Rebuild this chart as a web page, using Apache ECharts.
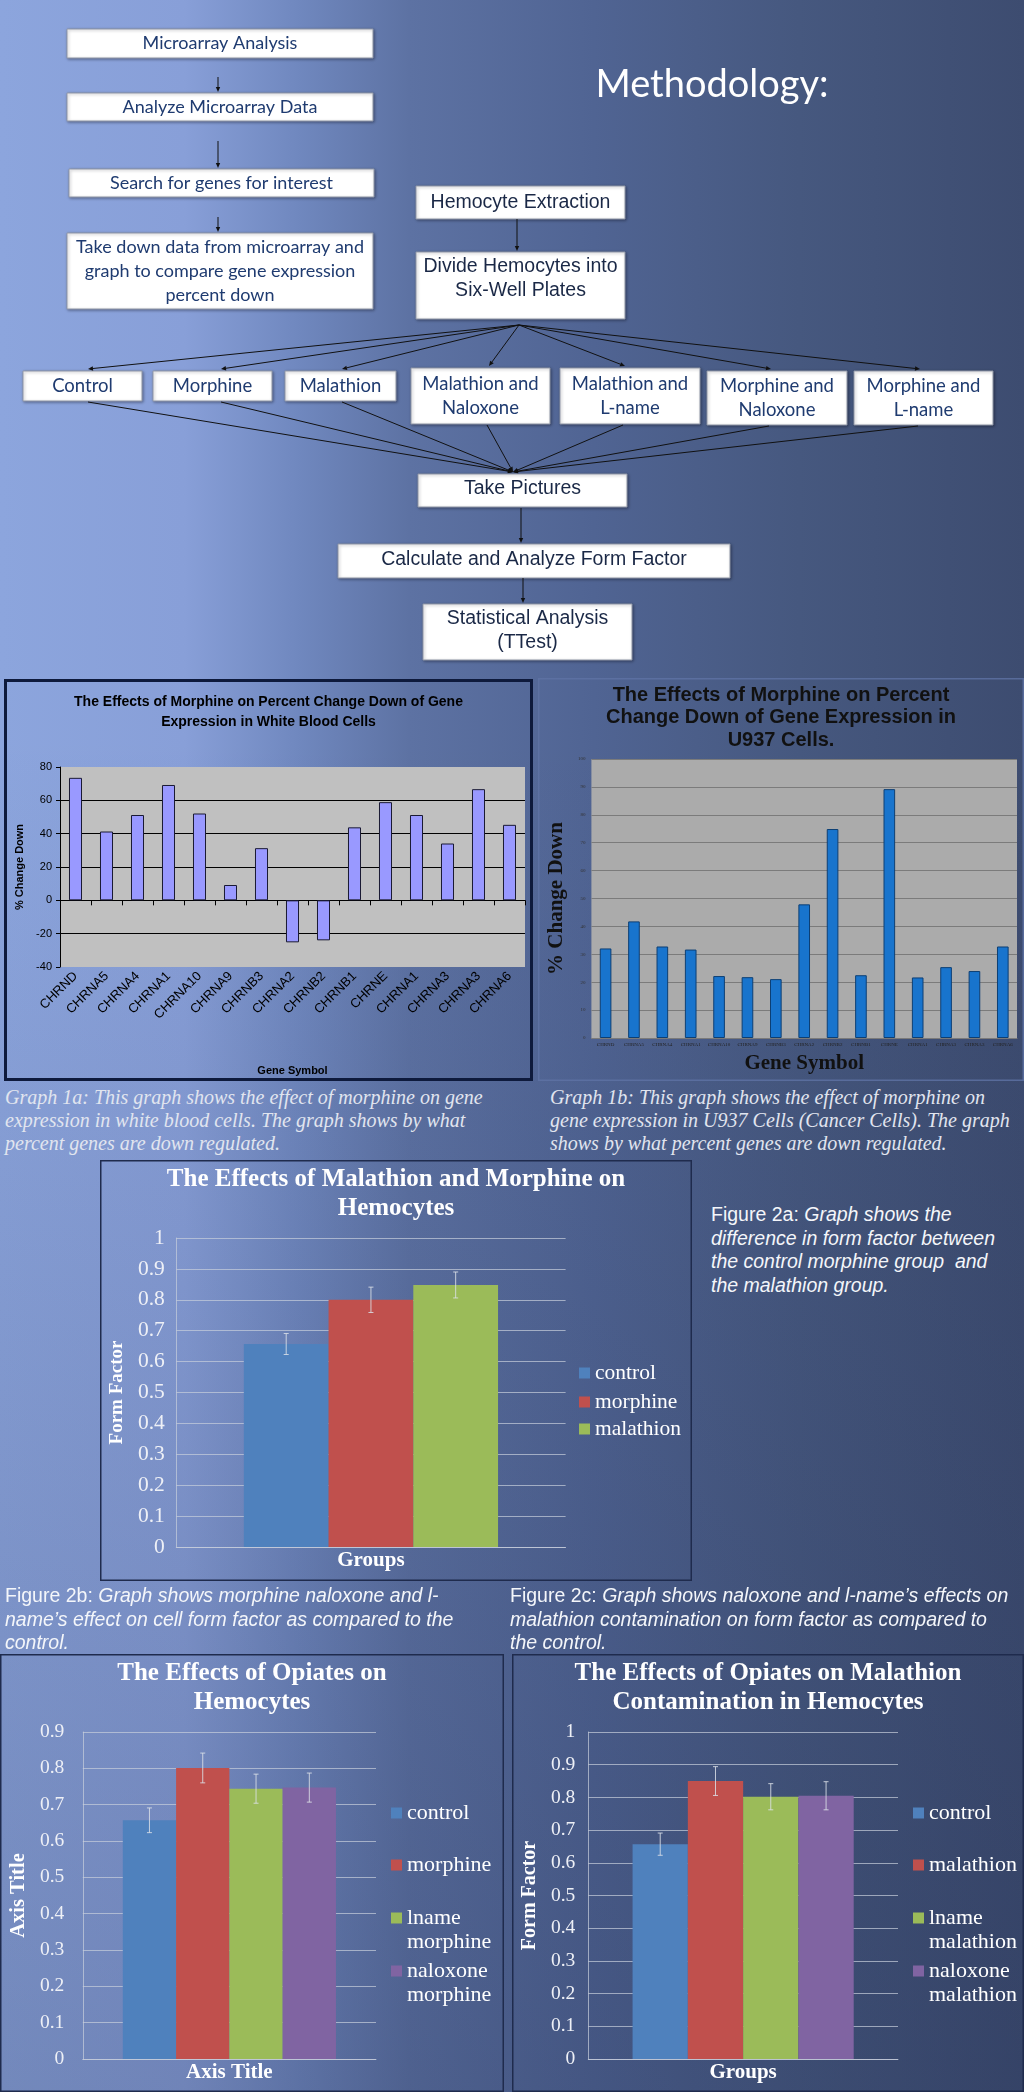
<!DOCTYPE html>
<html>
<head>
<meta charset="utf-8">
<script src="https://cdn.jsdelivr.net/npm/echarts@6.0.0/dist/echarts.min.js"></script>
<style>
html,body{margin:0;padding:0;width:1024px;height:2092px;overflow:hidden;}
body{position:relative;
  background:
    linear-gradient(to bottom, rgba(25,35,70,0) 0%, rgba(25,35,70,0) 35%, rgba(25,35,70,0.22) 100%),
    linear-gradient(to right, #8ca5dd 0%, #889fd8 18%, #7088bf 29%, #5d72a3 40%, #506493 58%, #46587f 78%, #3d4c70 100%);}
.c{position:absolute;}
.cap1{position:absolute;font-family:'Liberation Serif','DejaVu Serif',serif;font-style:italic;font-size:20px;line-height:23px;color:#e1e5ef;white-space:nowrap;}
.cap2{position:absolute;font-family:'Liberation Sans',Arial,sans-serif;font-size:19.5px;line-height:23.5px;color:#f4f6fa;white-space:nowrap;}
</style>
</head>
<body>
<div id="flow" class="c" style="left:0;top:0;width:1024px;height:670px;"></div>
<div id="g1a" class="c" style="left:4px;top:679px;width:529px;height:402px;"></div>
<div id="g1b" class="c" style="left:538px;top:678px;width:486px;height:403px;"></div>
<div id="g2a" class="c" style="left:100px;top:1160px;width:592px;height:421px;"></div>
<div id="g2b" class="c" style="left:0;top:1654px;width:504px;height:438px;"></div>
<div id="g2c" class="c" style="left:512px;top:1654px;width:512px;height:438px;"></div>

<div class="cap1" style="left:5px;top:1086px;">Graph 1a: This graph shows the effect of morphine on gene<br>expression in white blood cells. The graph shows by what<br>percent genes are down regulated.</div>
<div class="cap1" style="left:550px;top:1086px;">Graph 1b: This graph shows the effect of morphine on<br>gene expression in U937 Cells (Cancer Cells). The graph<br>shows by what percent genes are down regulated.</div>
<div class="cap2" style="left:711px;top:1203px;">Figure 2a: <i>Graph shows the<br>difference in form factor between<br>the control morphine group &nbsp;and<br>the malathion group.</i></div>
<div class="cap2" style="left:5px;top:1584px;">Figure 2b: <i>Graph shows morphine naloxone and l-<br>name’s effect on cell form factor as compared to the<br>control.</i></div>
<div class="cap2" style="left:510px;top:1584px;">Figure 2c: <i>Graph shows naloxone and l-name’s effects on<br>malathion contamination on form factor as compared to<br>the control.</i></div>

<script>
// ---------------- DATA ----------------
const genes = ['CHRND','CHRNA5','CHRNA4','CHRNA1','CHRNA10','CHRNA9','CHRNB3','CHRNA2','CHRNB2','CHRNB1','CHRNE','CHRNA1','CHRNA3','CHRNA3','CHRNA6'];
const wbcChangeDown = [73.5, 41.3, 51.2, 69.2, 52.1, 9.2, 31.3, -25.2, -24.0, 43.8, 58.9, 51.2, 34.1, 66.7, 45.3];
const u937ChangeDown = [32.1, 41.8, 32.8, 31.7, 22.2, 21.8, 21.1, 47.9, 74.9, 22.5, 89.2, 21.7, 25.4, 24.0, 32.8];
const wbcTicks = [-40, -20, 0, 20, 40, 60, 80];

const groups2a = ['control', 'morphine', 'malathion'];
const formFactor2a = [0.657, 0.800, 0.848];
const error2a = [0.034, 0.041, 0.042];

const groups2b = ['control', 'morphine', 'lname\nmorphine', 'naloxone\nmorphine'];
const formFactor2b = [0.657, 0.801, 0.744, 0.747];
const error2b = [0.034, 0.041, 0.040, 0.040];

const groups2c = ['control', 'malathion', 'lname\nmalathion', 'naloxone\nmalathion'];
const formFactor2c = [0.657, 0.850, 0.802, 0.805];
const error2c = [0.034, 0.044, 0.040, 0.043];

// ---------------- STYLE ----------------
const SANS = "'Liberation Sans', Arial, sans-serif";
const SERIF = "'Liberation Serif', 'DejaVu Serif', serif";
const LATO = "Lato, 'Open Sans', sans-serif";
const BAR_COLORS = ['#4f81bd', '#c0504d', '#9bbb59', '#8064a2'];
const GRID_C = 'rgba(200,206,220,0.7)';
const ERR_C = 'rgba(220,224,232,0.85)';

function frame(w, h, color, lw) {
  return {type:'rect', silent:true, z:100,
    shape:{x:lw/2, y:lw/2, width:w-lw, height:h-lw},
    style:{fill:'none', stroke:color, lineWidth:lw}};
}

// ---------------- FLOWCHART ----------------
(function(){
  const chart = echarts.init(document.getElementById('flow'));
  const els = [];
  function box(x, y, w, h, text, font, size, color, ty) {
    els.push({type:'rect', shape:{x:x, y:y, width:w, height:h},
      style:{fill:'#ffffff', stroke:'#8f96a6', lineWidth:1, shadowBlur:3, shadowColor:'rgba(0,0,20,0.35)', shadowOffsetX:1, shadowOffsetY:1}});
    els.push({type:'text', x:x + w/2, y:(ty != null ? ty : y + h/2),
      style:{text:text, fill:color, fontFamily:font, fontSize:size, lineHeight:24, align:'center', verticalAlign:'middle'}});
  }
  function arrow(x1, y1, x2, y2) {
    const a = Math.atan2(y2 - y1, x2 - x1), h = 5, w = 2.2;
    const bx = x2 - h*Math.cos(a), by = y2 - h*Math.sin(a);
    const px = -Math.sin(a)*w, py = Math.cos(a)*w;
    els.push({type:'line', shape:{x1:x1, y1:y1, x2:bx, y2:by}, style:{stroke:'#111', lineWidth:1}});
    els.push({type:'polygon', shape:{points:[[x2,y2],[bx+px,by+py],[bx-px,by-py]]}, style:{fill:'#111'}});
  }
  const BLUE = '#1f3b70', NAVY = '#1a2846';
  // left column
  box(67, 29, 306, 29, 'Microarray Analysis', LATO, 18, BLUE);
  box(67, 93, 306, 28, 'Analyze Microarray Data', LATO, 18, BLUE);
  box(69, 169, 305, 28, 'Search for genes for interest', LATO, 18, BLUE);
  box(67, 233, 306, 76, 'Take down data from microarray and\ngraph to compare gene expression\npercent down', LATO, 18, BLUE);
  arrow(218, 77, 218, 92);
  arrow(218, 141, 218, 168);
  arrow(218, 217, 218, 232);
  // centre column
  box(416, 186, 209, 33, 'Hemocyte Extraction', SANS, 19.5, NAVY);
  box(416, 252, 209, 67, 'Divide Hemocytes into\nSix-Well Plates', SANS, 19.5, NAVY, 279);
  arrow(517, 219, 517, 251);
  // treatment boxes
  const treat = [
    [23, 371, 119, 30, 'Control'],
    [153, 371, 119, 30, 'Morphine'],
    [285, 371, 111, 30, 'Malathion'],
    [411, 368, 139, 56, 'Malathion and\nNaloxone'],
    [560, 368, 140, 56, 'Malathion and\nL-name'],
    [707, 371, 140, 54, 'Morphine and\nNaloxone'],
    [854, 371, 139, 54, 'Morphine and\nL-name']
  ];
  const topTips = [88, 221, 342, 489, 625, 771, 920];
  treat.forEach(function(t, i){
    box(t[0], t[1], t[2], t[3], t[4], LATO, 18.5, BLUE);
    arrow(519, 325, topTips[i], t[1] - 2);
    arrow(topTips[i] - (i < 3 ? 0 : 2), t[1] + t[3] + 1, 513, 472);
  });
  box(418, 474, 209, 33, 'Take Pictures', SANS, 19.5, NAVY, 489);
  box(338, 544, 392, 34, 'Calculate and Analyze Form Factor', SANS, 19.5, NAVY, 560);
  box(423, 604, 209, 56, 'Statistical Analysis\n(TTest)', SANS, 19.5, NAVY, 631);
  arrow(521, 508, 521, 543);
  arrow(523, 578, 523, 603);
  els.push({type:'text', x:712, y:85, style:{text:'Methodology:', fill:'#ffffff', fontFamily:LATO, fontSize:38, align:'center', verticalAlign:'middle'}});
  chart.setOption({animation:false, graphic:{elements:els}});
})();

// ---------------- GRAPH 1a ----------------
(function(){
  const chart = echarts.init(document.getElementById('g1a'));
  chart.setOption({
    animation:false,
    title:{text:'The Effects of Morphine on Percent Change Down of Gene\nExpression in White Blood Cells', left:'center', top:13, padding:0,
      textStyle:{fontFamily:SANS, fontWeight:'bold', fontSize:14, lineHeight:20, color:'#000'}},
    grid:{left:56, right:8, top:88, bottom:43, show:true, backgroundColor:'#c0c0c0', borderWidth:0},
    xAxis:{type:'category', data:genes,
      axisLine:{onZero:true, lineStyle:{color:'#000', width:1}},
      axisTick:{show:true, length:5, lineStyle:{color:'#000'}},
      axisLabel:{interval:0, rotate:45, fontSize:13, color:'#000', fontFamily:SANS, margin:7},
      name:'Gene Symbol', nameLocation:'middle', nameGap:98,
      nameTextStyle:{fontFamily:SANS, fontWeight:'bold', fontSize:11, color:'#000'}},
    yAxis:{type:'value', min:wbcTicks[0], max:wbcTicks[wbcTicks.length-1], interval:20,
      axisLine:{show:true, lineStyle:{color:'#000'}},
      axisTick:{show:true, length:4, lineStyle:{color:'#000'}},
      axisLabel:{fontSize:11, color:'#000', fontFamily:SANS, margin:8},
      splitLine:{lineStyle:{color:['rgba(0,0,0,0)','#000','#000','#000','#000','#000','rgba(0,0,0,0)'], width:1}},
      name:'% Change Down', nameLocation:'middle', nameRotate:90, nameGap:27,
      nameTextStyle:{fontFamily:SANS, fontWeight:'bold', fontSize:11, color:'#000'}},
    series:[{type:'bar', data:wbcChangeDown, barWidth:'42%',
      itemStyle:{color:'#9999ff', borderColor:'#1a1a33', borderWidth:1}}],
    graphic:[frame(529, 402, '#0e1a3c', 3)]
  });
})();

// ---------------- GRAPH 1b ----------------
(function(){
  const chart = echarts.init(document.getElementById('g1b'));
  chart.setOption({
    animation:false,
    title:{text:'The Effects of Morphine on Percent\nChange Down of Gene Expression in\nU937 Cells.', left:'center', top:6, padding:0,
      textStyle:{fontFamily:SANS, fontWeight:'bold', fontSize:20, lineHeight:22.5, color:'#111'}},
    grid:{left:48, right:7, top:81, bottom:43, show:true, backgroundColor:'#ababab', borderWidth:0},
    xAxis:{type:'category', data:genes,
      axisLine:{show:true, lineStyle:{color:'#7a7a7a'}},
      axisTick:{show:false},
      axisLabel:{interval:0, fontSize:5, color:'#222', fontFamily:SERIF, margin:4},
      name:'Gene Symbol', nameLocation:'middle', nameGap:15,
      nameTextStyle:{fontFamily:SERIF, fontWeight:'bold', fontSize:21, color:'#111'}},
    yAxis:{type:'value', min:0, max:100, interval:10,
      axisLine:{show:false}, axisTick:{show:false},
      axisLabel:{fontSize:5, color:'#333', fontFamily:SERIF, margin:6},
      splitLine:{lineStyle:{color:'#7b7b7b', width:1}},
      name:'% Change Down', nameLocation:'middle', nameRotate:90, nameGap:15,
      nameTextStyle:{fontFamily:SERIF, fontWeight:'bold', fontSize:21, color:'#111'}},
    series:[{type:'bar', data:u937ChangeDown, barWidth:'41%',
      itemStyle:{color:'#1874cd', borderColor:'#0d3f74', borderWidth:1}}],
    graphic:[frame(486, 403, 'rgba(95,115,165,0.8)', 1.5)]
  });
})();

// ---------------- GROUPED FORM FACTOR CHARTS ----------------
function errRenderer(i, n, gapFrac) {
  return function(params, api) {
    const cat = api.value(0), v = api.value(1), e = api.value(2);
    const band = api.size([1, 0])[0];
    const bw = band * (1 - gapFrac) / n;
    const base = api.coord([cat, v]);
    const x = base[0] + (i - (n - 1) / 2) * bw;
    const top = api.coord([cat, v + e])[1];
    const bot = api.coord([cat, v - e])[1];
    const st = {stroke:ERR_C, lineWidth:1};
    return {type:'group', children:[
      {type:'line', shape:{x1:x, y1:top, x2:x, y2:bot}, style:st},
      {type:'line', shape:{x1:x-2.5, y1:top, x2:x+2.5, y2:top}, style:st},
      {type:'line', shape:{x1:x-2.5, y1:bot, x2:x+2.5, y2:bot}, style:st}
    ]};
  };
}

function grouped(cfg) {
  const n = cfg.names.length;
  const LH = 24;
  const series = [];
  cfg.names.forEach(function(nm, i){
    series.push({type:'bar', name:nm, data:[cfg.values[i]], barGap:'0%',
      barCategoryGap:(cfg.gap * 100) + '%', itemStyle:{color:BAR_COLORS[i]}, z:2});
  });
  cfg.names.forEach(function(nm, i){
    series.push({type:'custom', name:'_err' + i, data:[[0, cfg.values[i], cfg.errors[i]]],
      encode:{x:0, y:1}, z:5, silent:true, renderItem:errRenderer(i, n, cfg.gap)});
  });
  const legends = cfg.names.map(function(nm, i){
    const two = nm.indexOf('\n') >= 0;
    return {data:[{name:nm, icon:'rect', itemStyle:{color:BAR_COLORS[i]}}],
      left:cfg.legendLeft, top:cfg.legendY[i] - (two ? 1.5 * LH : 0.5 * LH),
      orient:'vertical', padding:0, itemWidth:11, itemHeight:11, selectedMode:false,
      formatter:function(name){ return two ? '\n' + name : name; },
      textStyle:{color:'#ffffff', fontFamily:SERIF, fontSize:cfg.legendFont, lineHeight:LH}};
  });
  return {
    animation:false,
    title:{text:cfg.title, left:'center', top:5.5, padding:0,
      textStyle:{color:'#ffffff', fontFamily:SERIF, fontWeight:'bold', fontSize:25, lineHeight:29}},
    legend:legends,
    grid:{left:cfg.grid[0], right:cfg.grid[1], top:cfg.grid[2], bottom:cfg.grid[3]},
    xAxis:{type:'category', data:[''], axisLine:{lineStyle:{color:GRID_C}}, axisTick:{show:false},
      axisLabel:{show:false}, name:cfg.xName, nameLocation:'middle', nameGap:3,
      nameTextStyle:{color:'#ffffff', fontFamily:SERIF, fontWeight:'bold', fontSize:21}},
    yAxis:{type:'value', min:0, max:cfg.max, interval:0.1,
      axisLine:{show:true, lineStyle:{color:GRID_C}}, axisTick:{show:false},
      axisLabel:{color:'#eef0f6', fontFamily:SERIF, fontSize:cfg.tickFont, margin:cfg.tickMargin,
        formatter:function(v){ return String(Math.round(v * 10) / 10); }},
      splitLine:{lineStyle:{color:GRID_C, width:1}},
      name:cfg.yName, nameLocation:'middle', nameRotate:90, nameGap:cfg.yNameGap,
      nameTextStyle:{color:'#ffffff', fontFamily:SERIF, fontWeight:'bold', fontSize:cfg.yNameFont}},
    series:series,
    graphic:[frame(cfg.w, cfg.h, '#1f2b4d', 1.5)]
  };
}

echarts.init(document.getElementById('g2a')).setOption(grouped({
  names:groups2a, values:formFactor2a, errors:error2a, gap:0.347,
  title:'The Effects of Malathion and Morphine on\nHemocytes',
  grid:[70.5, 126.4, 78, 34], max:1, tickFont:21.5, tickMargin:11.5,
  xName:'Groups', yName:'Form Factor', yNameGap:41.5, yNameFont:19,
  legendLeft:479, legendY:[213, 242, 269], legendFont:21.5, w:592, h:421
}));

echarts.init(document.getElementById('g2b')).setOption(grouped({
  names:groups2b, values:formFactor2b, errors:error2b, gap:0.273,
  title:'The Effects of Opiates on\nHemocytes',
  grid:[76, 128, 78, 33], max:0.9, tickFont:19.5, tickMargin:18.5,
  xName:'Axis Title', yName:'Axis Title', yNameGap:45.5, yNameFont:20.5,
  legendLeft:391, legendY:[159, 211, 264, 317], legendFont:22, w:504, h:438
}));

echarts.init(document.getElementById('g2c')).setOption(grouped({
  names:groups2c, values:formFactor2c, errors:error2c, gap:0.286,
  title:'The Effects of Opiates on Malathion\nContamination in Hemocytes',
  grid:[71, 126, 78, 33], max:1, tickFont:19.5, tickMargin:13,
  xName:'Groups', yName:'Form Factor', yNameGap:41, yNameFont:20,
  legendLeft:401, legendY:[159, 211, 264, 317], legendFont:22, w:512, h:438
}));
</script>
</body>
</html>
